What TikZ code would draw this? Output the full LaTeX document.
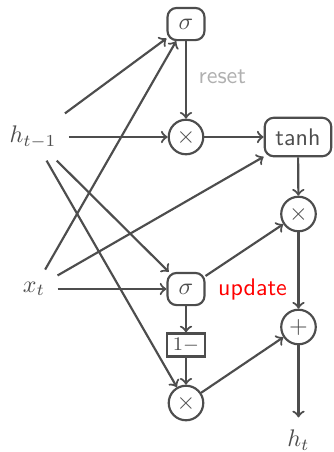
\documentclass[tikz,border=0pt]{standalone}
\definecolor{ink}{HTML}{4D4D4D}
\definecolor{soft}{HTML}{B0B0B0}
\begin{document}
\begin{tikzpicture}[x=0.4167pt,y=-0.4167pt,
  every node/.style={text=ink},
  gate/.style={draw=ink, line width=0.9pt, rounded corners=3.8pt, inner sep=4.5pt,
    minimum width=15.4pt, minimum height=13.4pt},
  op/.style={draw=ink, line width=0.9pt, circle, inner sep=0pt, minimum size=14.4pt},
  negbox/.style={draw=ink, line width=0.9pt, inner sep=1pt, minimum width=15.8pt,
    minimum height=9.6pt, font=\footnotesize},
  port/.style={inner sep=5pt},
  flow/.style={draw=ink, line width=0.9pt, ->},
]
\useasboundingbox (0,0) rectangle (334,452);

% inputs and output
\node[port] (h)  at (33,137)    {$h_{t-1}$};
\node[port] (x)  at (34,289)    {$x_t$};
\node[port] (ht) at (298.5,440) {$h_t$};

% gates and pointwise operations
\node[gate] (sig1) at (186,24)    {$\sigma$};
\node[op]   (mul1) at (186,137)   {$\times$};
\node[gate] (tanh) at (298,137)   {\sffamily tanh};
\node[op]   (mul2) at (298.5,214) {$\times$};
\node[gate] (sig2) at (186,289)   {$\sigma$};
\node[negbox] (neg) at (186,345)  {$1-$};
\node[op]   (mul3) at (186,403)   {$\times$};
\node[op]   (plus) at (298.5,327) {$+$};

\node[anchor=west, text=red, font=\sffamily] (updlbl)
  at ([xshift=1.7pt]sig2.east) {update};

% connections
\draw[flow] (h) -- (sig1);
\draw[flow] (x) -- (sig1);
\draw[flow] (h) -- (mul1);
\draw[flow] (sig1) -- node[pos=0.46, anchor=west, xshift=1.5pt, text=soft,
  font=\sffamily] (resetlbl) {reset} (mul1);
\draw[flow] (mul1) -- (tanh);
\draw[flow] (x) -- (tanh);
\draw[flow] (tanh) -- (mul2);
\draw[flow] (h) -- (sig2);
\draw[flow] (x) -- (sig2);
\draw[flow] (h) -- (mul3);
\draw[flow] (sig2) -- (mul2);
\draw[flow] (sig2) -- (neg);
\draw[flow] (neg) -- (mul3);
\draw[flow] (mul3) -- (plus);
\draw[flow] (mul2) -- (plus);
\draw[flow] (plus) -- (ht);
\end{tikzpicture}
\end{document}
